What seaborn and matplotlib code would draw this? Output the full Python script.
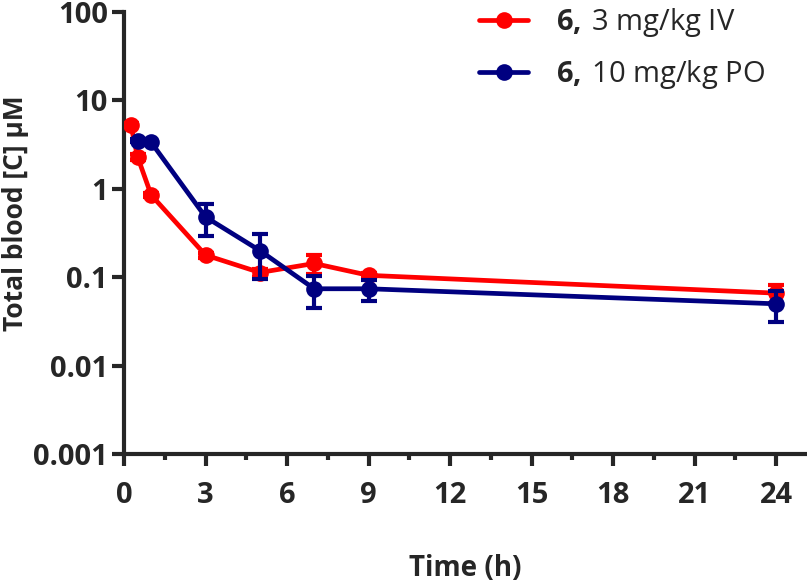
import pandas as pd
import seaborn as sns
import matplotlib.pyplot as plt
from matplotlib.ticker import FixedLocator, FuncFormatter, MultipleLocator

# Blood concentration of compound 6 over time (mean +/- SD)
t_iv = [0.25, 0.5, 1, 3, 5, 7, 9, 24]
c_iv = [5.3, 2.3, 0.85, 0.178, 0.113, 0.143, 0.105, 0.066]
sd_iv = [0.3, 0.2, 0.05, 0.012, 0.012, 0.035, 0.008, 0.015]

t_po = [0.5, 1, 3, 5, 7, 9, 24]
c_po = [3.5, 3.35, 0.48, 0.20, 0.074, 0.074, 0.050]
sd_po = [0.15, 0.15, 0.19, 0.105, 0.029, 0.020, 0.019]

label_iv = '$\\mathbf{6,}$\u20093 mg/kg IV'
label_po = '$\\mathbf{6,}$\u200910 mg/kg PO'

sns.set_style('ticks')
plt.rcParams['font.family'] = ['Open Sans', 'DejaVu Sans']
plt.rcParams['mathtext.fontset'] = 'custom'
plt.rcParams['mathtext.rm'] = 'Open Sans'
plt.rcParams['mathtext.bf'] = 'Open Sans:bold'


def main():
    iv = pd.DataFrame({'time': t_iv, 'conc': c_iv, 'sd': sd_iv})
    po = pd.DataFrame({'time': t_po, 'conc': c_po, 'sd': sd_po})

    fig = plt.figure(figsize=(8.07, 5.88), dpi=100)
    ax = fig.add_axes([124 / 807, 1 - 454 / 588, 682 / 807, 442 / 588])

    red = '#ff0000'
    navy = '#000080'

    sns.lineplot(data=iv, x='time', y='conc', color=red, lw=3.4, marker='o', markersize=12,
                 markeredgewidth=0, label=label_iv, ax=ax, zorder=3)
    ax.errorbar(iv['time'], iv['conc'], yerr=iv['sd'], fmt='none', ecolor=red,
                elinewidth=3, capsize=5.5, capthick=3, zorder=3)
    sns.lineplot(data=po, x='time', y='conc', color=navy, lw=3.4, marker='o', markersize=12,
                 markeredgewidth=0, label=label_po, ax=ax, zorder=4)
    ax.errorbar(po['time'], po['conc'], yerr=po['sd'], fmt='none', ecolor=navy,
                elinewidth=3, capsize=5.5, capthick=3, zorder=4)

    ax.set_yscale('log')
    ax.set_ylim(0.001, 100)
    ax.set_xlim(0, 25.1)
    ax.yaxis.set_major_locator(FixedLocator([0.001, 0.01, 0.1, 1, 10, 100]))
    ax.yaxis.set_major_formatter(FuncFormatter(lambda v, p: f'{v:g}'))
    ax.yaxis.set_minor_locator(FixedLocator([]))
    ax.xaxis.set_major_locator(MultipleLocator(3))
    ax.xaxis.set_minor_locator(MultipleLocator(1.5))

    sns.despine(ax=ax)
    for s in ['left', 'bottom']:
        ax.spines[s].set_linewidth(3)
    ax.tick_params(which='major', length=8.5, width=3, labelsize=21)
    ax.tick_params(which='minor', length=4.5, width=3)
    ax.tick_params(axis='x', which='major', pad=11)
    ax.tick_params(axis='y', which='major', pad=3)
    for lab in ax.get_xticklabels() + ax.get_yticklabels():
        lab.set_fontweight('bold')

    ax.set_xlabel('Time (h)', fontsize=20, fontweight='bold')
    ax.set_ylabel('Total blood [C] \u03bcM', fontsize=19, fontweight='bold')
    ax.xaxis.set_label_coords(0.5, -0.226)
    ax.yaxis.set_label_coords(-0.14, 0.545)

    ax.legend(loc='upper left', bbox_to_anchor=(453 / 807, 1.034), bbox_transform=fig.transFigure,
              frameon=False, fontsize=21, handlelength=1.68, handletextpad=0.96,
              labelspacing=0.65)

    fig.savefig('out.png', dpi=100)


if __name__ == '__main__':
    main()
